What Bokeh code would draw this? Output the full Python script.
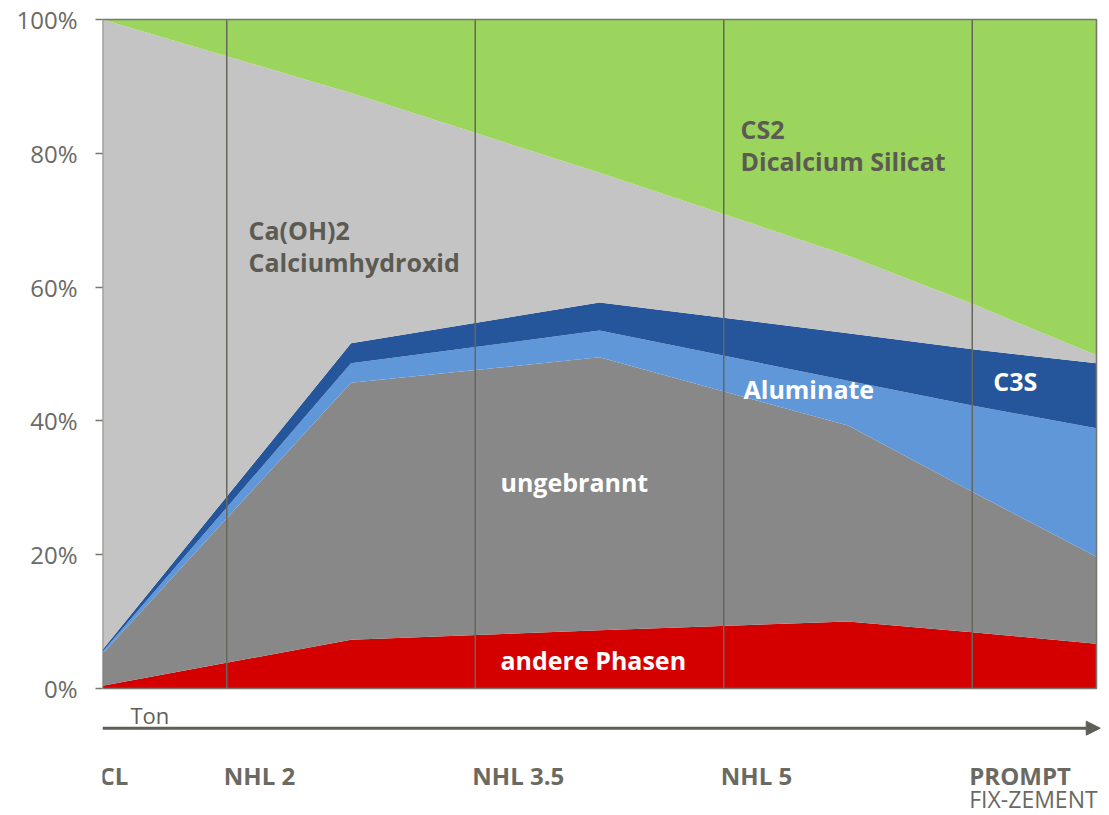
from bokeh.plotting import figure
from bokeh.models import ColumnDataSource, Range1d, FixedTicker, PrintfTickFormatter, Arrow, NormalHead
from bokeh.core.properties import value
from bokeh.embed import file_html
from bokeh.resources import INLINE

# ---- data (percent shares, stacked bottom -> top) ----
x = [0, 2, 4, 6, 7, 8]
andere = [0.4, 7.3, 8.7, 10.0, 8.4, 6.7]
ungebrannt = [4.8, 38.4, 40.8, 29.3, 21.0, 13.0]
aluminate = [0.3, 2.9, 4.0, 6.7, 12.9, 19.2]
c3s = [0.3, 3.0, 4.2, 7.1, 8.4, 9.7]
caoh = [94.2, 37.4, 19.4, 11.6, 6.8, 1.2]
cs2 = [0.0, 11.0, 22.9, 35.3, 42.5, 50.2]

categories = ["CL", "NHL 2", "NHL 3.5", "NHL 5", "PROMPT"]
cat_pos = [0, 1, 3, 5, 7]
sub_label = "FIX-ZEMENT"
y_ticks = [0, 20, 40, 60, 80, 100]

series = ["andere", "ungebrannt", "aluminate", "c3s", "caoh", "cs2"]
colors = ["#d40000", "#888888", "#6097d9", "#25559b", "#c4c4c4", "#9cd55d"]

src = ColumnDataSource(dict(x=x, andere=andere, ungebrannt=ungebrannt, aluminate=aluminate,
                            c3s=c3s, caoh=caoh, cs2=cs2))

W, H = 1109, 815
px_x = 124.25   # px per x unit
px_y = 6.69     # px per percent
left = 102
top = 19
x_end = (W - left) / px_x
y_end = 100 + top / px_y
y_start = y_end - H / px_y

p = figure(width=W, height=H, output_backend="svg", toolbar_location=None,
           x_range=Range1d(0, x_end), y_range=Range1d(y_start, y_end),
           x_axis_location=None, min_border_left=left, min_border_right=0,
           min_border_top=0, min_border_bottom=0)
p.outline_line_color = None
p.grid.visible = False
p.background_fill_color = "white"

p.varea_stack(stackers=series, x="x", color=colors, source=src)

line_col = "#66665e"
# category separators
p.segment(x0=cat_pos[1:], y0=[0] * 4, x1=cat_pos[1:], y1=[100] * 4, line_color=line_col,
          line_width=1.5)
# plot border
p.line([0, x[-1], x[-1], 0, 0], [0, 0, 100, 100, 0], line_color="#77776f", line_width=1.6)

# y axis
ax = p.yaxis[0]
ax.ticker = FixedTicker(ticks=y_ticks)
ax.formatter = PrintfTickFormatter(format="%d%%")
ax.axis_line_color = None
ax.major_tick_out = 7
ax.major_tick_in = 0
ax.major_tick_line_color = "#77776f"
ax.major_tick_line_width = 1.5
ax.minor_tick_line_color = None
ax.major_label_standoff = 18
ax.major_label_text_font = "Open Sans"
ax.major_label_text_font_size = "24px"
ax.major_label_text_color = "#6a6a66"

font = value("Open Sans")

# arrow "Ton"
p.add_layout(Arrow(end=NormalHead(size=14, fill_color="#5f5f57", line_color="#5f5f57"),
                   x_start=0, y_start=-5.93, x_end=8.03, y_end=-5.93,
                   line_color="#5f5f57", line_width=3))
p.text(x=[0.225], y=[-4.0], text=["Ton"], text_font=font, text_font_size="22px",
       text_color="#5f5f57", text_baseline="middle", text_align="left")

# category labels
p.text(x=cat_pos, y=[-13.0] * len(cat_pos), text=categories, text_font=font,
       text_font_style="bold", text_font_size="24px", text_color="#6a6a62",
       text_baseline="middle", text_align="left", x_offset=-3)
p.text(x=[cat_pos[-1]], y=[-16.45], text=[sub_label], text_font=font,
       text_font_size="23px", text_color="#6a6a62", text_baseline="middle",
       text_align="left", x_offset=-3)

# series labels
dark = "#5b5b53"
p.text(x=[1.175, 1.175], y=[68.5, 63.7], text=["Ca(OH)2", "Calciumhydroxid"], text_font=font,
       text_font_style="bold", text_font_size="25px", text_color=dark,
       text_baseline="middle", text_align="left")
p.text(x=[5.135, 5.135], y=[83.7, 78.8], text=["CS2", "Dicalcium Silicat"], text_font=font,
       text_font_style="bold", text_font_size="25px", text_color=dark,
       text_baseline="middle", text_align="left")
p.text(x=[3.203, 3.203, 5.159, 7.17], y=[30.8, 4.19, 44.7, 46.0],
       text=["ungebrannt", "andere Phasen", "Aluminate", "C3S"], text_font=font,
       text_font_style="bold", text_font_size="25px", text_color="white",
       text_baseline="middle", text_align="left")

open("out.html", "w").write(file_html(p, INLINE))
